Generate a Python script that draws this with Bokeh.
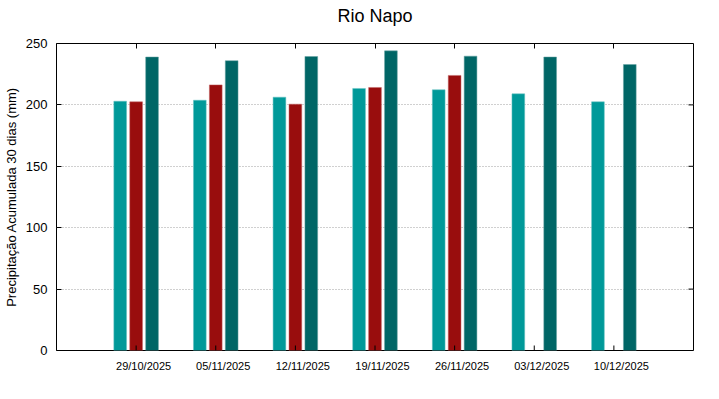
from bokeh.plotting import figure
from bokeh.models import FixedTicker, LinearAxis, Range1d, Legend, LegendItem
from bokeh.embed import file_html
from bokeh.resources import INLINE

dates = ["29/10/2025", "05/11/2025", "12/11/2025", "19/11/2025", "26/11/2025", "03/12/2025", "10/12/2025"]
q425 = [203, 203.8, 206.3, 213.4, 212.3, 209, 202.5]
obs2025 = [202.5, 216.3, 200.6, 214.2, 224, None, None]
q575 = [239, 236, 239.4, 244, 239.7, 239, 232.9]
yticks = [0, 50, 100, 150, 200, 250]
legend_labels = ["Quantil 42.5%", "Observado 2025", "Quantil 57.5%"]
title = "Rio Napo"

FONT = "Liberation Sans"
idx = list(range(len(dates)))
C1, C2, C3 = "#009999", "#990d0d", "#006666"

xr = Range1d(-1, 7)
yr = Range1d(0, 250)
p = figure(frame_width=637, frame_height=307, output_backend="svg", toolbar_location=None,
           x_range=xr, y_range=yr,
           min_border_left=51, min_border_right=15, min_border_top=43, min_border_bottom=49)
p.outline_line_color = "black"
p.outline_line_width = 1
p.background_fill_color = "white"

w = 0.16
r1 = p.vbar(x=[i - 0.2 for i in idx], top=q425, width=w, bottom=0, fill_color=C1, line_color="#66c2c2", line_width=0.5)
obs_x = [i for i, v in zip(idx, obs2025) if v is not None]
obs_v = [v for v in obs2025 if v is not None]
r2 = p.vbar(x=obs_x, top=obs_v, width=w, bottom=0, fill_color=C2, line_color="#c26666", line_width=0.5)
r3 = p.vbar(x=[i + 0.2 for i in idx], top=q575, width=w, bottom=0, fill_color=C3, line_color="#66a3a3", line_width=0.5)
r0 = p.vbar(x=[], top=[], width=w, fill_alpha=0, line_alpha=0)  # blank legend slot

# mirrored inward ticks on the bottom and right edges
tick_x = 5 * (xr.end - xr.start) / 637
tick_y = 5 * (yr.end - yr.start) / 307
p.segment(x0=idx, x1=idx, y0=[yr.start] * len(idx), y1=[yr.start + tick_y] * len(idx),
          line_color="black", line_width=1)
p.segment(x0=[xr.end] * len(yticks), x1=[xr.end - tick_x] * len(yticks),
          y0=yticks, y1=yticks, line_color="black", line_width=1)

# bottom axis carrying the date labels (gnuplot shifts them a bit right of the tick)
xa = p.xaxis[0]
xa.ticker = FixedTicker(ticks=[i + 0.094 for i in idx])
xa.major_label_overrides = {i + 0.094: d for i, d in zip(idx, dates)}
xa.major_label_text_font = FONT
xa.major_label_text_font_size = "11px"
xa.major_label_text_color = "black"
xa.major_tick_in = 0
xa.major_tick_out = 0
xa.minor_tick_line_color = None
xa.axis_line_color = None
xa.major_label_standoff = 9

ya = p.yaxis[0]
ya.ticker = FixedTicker(ticks=yticks)
ya.major_label_text_font = FONT
ya.major_label_text_font_size = "13px"
ya.major_label_text_color = "black"
ya.major_tick_in = 5
ya.major_tick_out = 0
ya.minor_tick_line_color = None
ya.axis_line_color = None
ya.major_label_standoff = 9
ya.axis_label = "Precipitação Acumulada 30 dias (mm)"
ya.axis_label_text_font = FONT
ya.axis_label_text_font_size = "13px"
ya.axis_label_text_font_style = "normal"
ya.axis_label_text_color = "black"
ya.axis_label_standoff = 4

# top axis: mirrored inward ticks, and it carries the chart title
top_ax = LinearAxis(ticker=FixedTicker(ticks=idx), major_label_text_font_size="0px",
                    major_tick_in=5, major_tick_out=0, minor_tick_line_color=None,
                    axis_line_color=None, major_label_standoff=0,
                    axis_label=title, axis_label_text_font=FONT,
                    axis_label_text_font_size="18px", axis_label_text_font_style="normal",
                    axis_label_text_color="black", axis_label_standoff=18)
top_ax.major_label_text_alpha = 0
p.add_layout(top_ax, "above")

p.xgrid.grid_line_color = None
p.ygrid.ticker = FixedTicker(ticks=yticks)
p.ygrid.grid_line_color = "#a0a0a0"
p.ygrid.grid_line_dash = "1 2"
p.ygrid.grid_line_width = 1

# gnuplot-style key: each label is followed by its sample
items = [
    LegendItem(label=legend_labels[0], renderers=[r0]),
    LegendItem(label=legend_labels[1], renderers=[r1]),
    LegendItem(label=legend_labels[2], renderers=[r2]),
    LegendItem(label="       ", renderers=[r3]),
]
legend = Legend(items=items, orientation="horizontal", location="center",
                glyph_width=33, glyph_height=5, label_standoff=12, spacing=7,
                padding=0, margin=0, label_height=13, label_width=1,
                border_line_color=None, background_fill_alpha=0,
                label_text_font=FONT, label_text_font_size="13px", label_text_color="black")
p.add_layout(legend, "below")

open("out.html", "w").write(file_html(p, INLINE))
